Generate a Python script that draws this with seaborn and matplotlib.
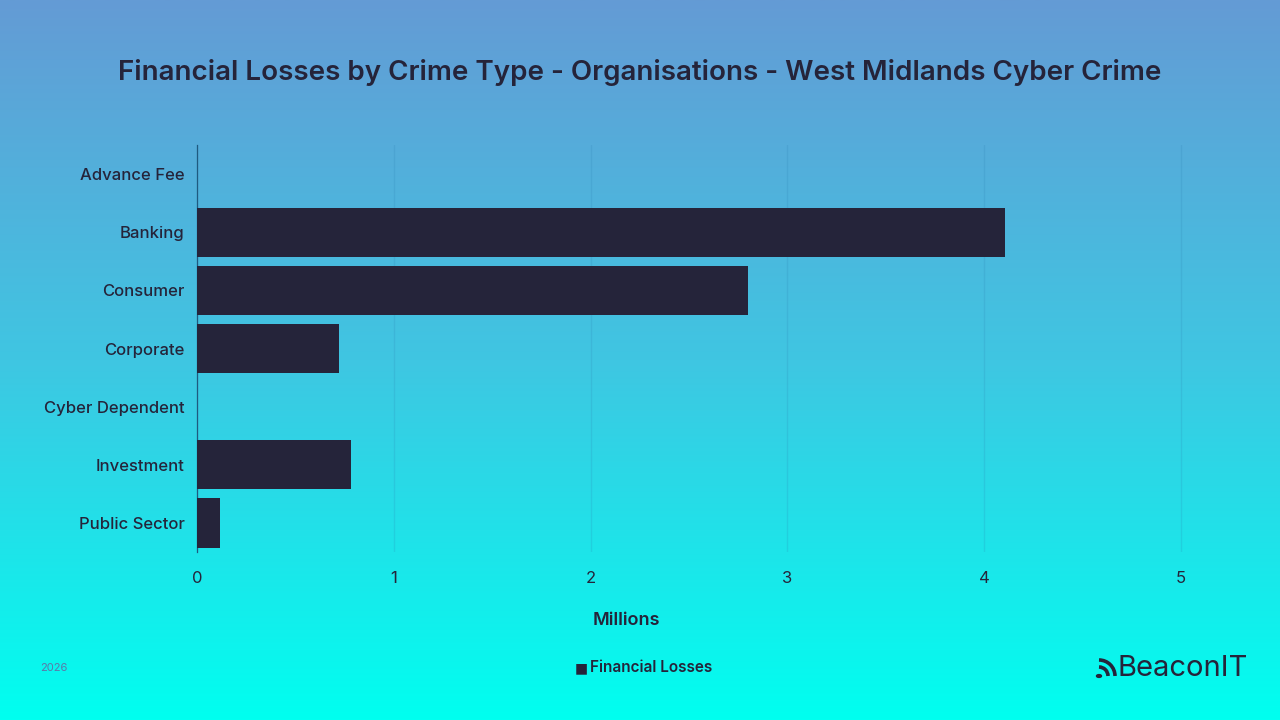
import numpy as np
import pandas as pd
import seaborn as sns
import matplotlib.pyplot as plt
from matplotlib.patches import Arc, Circle
from matplotlib.colors import LinearSegmentedColormap

# Data (millions)
crime_types = ['Advance Fee', 'Banking', 'Consumer', 'Corporate',
               'Cyber Dependent', 'Investment', 'Public Sector']
losses = [0.0, 4.105, 2.80, 0.72, 0.0, 0.785, 0.115]
x_ticks = [0, 1, 2, 3, 4, 5]

df = pd.DataFrame({'Crime Type': crime_types, 'Financial Losses': losses})

sns.set_theme(style='white')
plt.rcParams['font.family'] = ['Inter', 'DejaVu Sans']

dark = '#25243a'

fig = plt.figure(figsize=(12.8, 7.2), dpi=100)

# gradient background
bg = fig.add_axes([0, 0, 1, 1], zorder=-10)
cmap = LinearSegmentedColormap.from_list('bg', ['#649bd5', '#3fc6e2', '#00fff0'])
grad = np.linspace(0, 1, 256).reshape(-1, 1)
bg.imshow(grad, aspect='auto', cmap=cmap, extent=[0, 1, 0, 1], origin='upper')
bg.axis('off')

ax = fig.add_axes([197 / 1280, 1 - 552 / 720, (1240 - 197) / 1280, (552 - 145) / 720])
ax.patch.set_alpha(0)

sns.barplot(data=df, x='Financial Losses', y='Crime Type', color=dark,
            saturation=1, width=0.85, linewidth=0, ax=ax, zorder=3)

ax.set_xlim(0, 5.3)
ax.set_xticks(x_ticks)
ax.set_xticklabels([str(t) for t in x_ticks], fontsize=12, color=dark)
ax.tick_params(axis='y', labelsize=12, colors=dark, length=0, pad=9)
ax.tick_params(axis='x', length=0, pad=14)
for lbl in ax.get_yticklabels():
    lbl.set_fontweight('medium')
ax.grid(axis='x', color='#2a7fb0', alpha=0.18, linewidth=1)
ax.set_axisbelow(True)
for s in ['top', 'right', 'bottom']:
    ax.spines[s].set_visible(False)
ax.spines['left'].set_color('#1f5a80')
ax.spines['left'].set_linewidth(0.9)
ax.set_ylabel('')
ax.set_xlabel('Millions', fontsize=13, color=dark, fontweight='semibold')
ax.xaxis.set_label_coords((626 - 197) / (1240 - 197), -0.148)

fig.text(0.5, 1 - 72 / 720, 'Financial Losses by Crime Type - Organisations - West Midlands Cyber Crime',
         ha='center', va='center', fontsize=20, fontweight='semibold', color=dark)

# legend
fig.text(575 / 1280, 1 - 668 / 720, '\u25a0', ha='left', va='center', fontsize=10, color=dark,
         family=['DejaVu Sans'])
fig.text(590 / 1280, 1 - 668 / 720, 'Financial Losses', ha='left', va='center',
         fontsize=11, fontweight='semibold', color=dark)

fig.text(40 / 1280, 1 - 668 / 720, '2026', ha='left', va='center', fontsize=8, color='#5a78a8')

# logo
fig.text(1118 / 1280, 1 - 668 / 720, 'BeaconIT', ha='left', va='center', fontsize=21, color=dark)
lx, ly = 1099 / 1280, 1 - 676 / 720
fig.patches.append(Circle((lx, ly), 2.5 / 1280, transform=fig.transFigure, color=dark))
for r in (9, 16):
    fig.patches.append(Arc((lx, ly), 2 * r / 1280, 2 * r / 720, theta1=0, theta2=90,
                           transform=fig.transFigure, color=dark, linewidth=2.6))

fig.savefig('out.png', dpi=100)
